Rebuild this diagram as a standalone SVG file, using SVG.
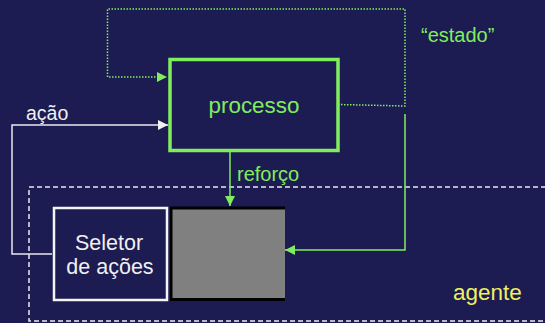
<svg xmlns="http://www.w3.org/2000/svg" width="545" height="323" viewBox="0 0 545 323">
  <style>
    text { font-family: "Liberation Sans", Arial, sans-serif; }
    .green { fill: #80ee5c; }
    .white { fill: #f0f0f0; }
    .yellow { fill: #f0f060; }
    .gline { stroke: #80ee5c; fill: none; }
    .wline { stroke: #e8e8f0; fill: none; stroke-width: 1.5; }
  </style>
  <defs>
    <marker id="ag" viewBox="0 0 10 10" refX="10" refY="5" markerWidth="10" markerHeight="10" markerUnits="userSpaceOnUse" orient="auto">
      <path d="M0,0 L10,5 L0,10 Z" fill="#80ee5c"/>
    </marker>
    <marker id="aw" viewBox="0 0 10 10" refX="10" refY="5" markerWidth="10" markerHeight="10" markerUnits="userSpaceOnUse" orient="auto">
      <path d="M0,0 L10,5 L0,10 Z" fill="#f0f0f0"/>
    </marker>
  </defs>

  <rect width="545" height="323" fill="#1c1b52"/>

  <!-- agent boundary -->
  <g id="agente">
    <rect x="29" y="187" width="530" height="134" fill="none" stroke="#e8e8f0" stroke-width="1.5" stroke-dasharray="5,3"/>
    <text x="453" y="300" font-size="22.5" class="yellow">agente</text>
  </g>

  <!-- connectors -->
  <g id="connectors">
    <!-- state feedback loop (dotted) -->
    <polyline class="gline" stroke-width="1.5" stroke-dasharray="1.5,1.5" points="338,104.5 405,106 405,9 107.5,9 107.5,77 158,77"/>
    <path d="M157,72 L167,77 L157,82 Z" fill="#80ee5c"/>
    <!-- action -->
    <polyline class="wline" points="52,254 12,254 12,125 168,125" marker-end="url(#aw)"/>
    <text x="26" y="119.5" font-size="19.5" class="white">ação</text>
    <!-- reinforcement -->
    <line class="gline" stroke-width="1.5" x1="230" y1="151" x2="230" y2="206" marker-end="url(#ag)"/>
    <text x="237" y="180.5" font-size="20" class="green">reforço</text>
    <!-- state into agent -->
    <polyline class="gline" stroke-width="1.5" points="405,114 405,250 285,250" marker-end="url(#ag)"/>
    <text x="421" y="41.5" font-size="20" class="green">“estado”</text>
  </g>

  <g id="processo">
    <rect x="170" y="59.5" width="168" height="91" fill="none" stroke="#80ee5c" stroke-width="3.5"/>
    <text x="254" y="112.5" font-size="22.4" text-anchor="middle" class="green">processo</text>
  </g>

  <g id="seletor">
    <rect x="54" y="208" width="113" height="92" fill="#1c1b52" stroke="#f4f4f4" stroke-width="2.5"/>
    <text x="109" y="250" font-size="21.5" text-anchor="middle" class="white">Seletor</text>
    <text x="110" y="274" font-size="21.5" text-anchor="middle" class="white">de ações</text>
  </g>

  <g id="bloco">
    <rect x="170" y="206.5" width="115" height="94.5" fill="#000000"/>
    <rect x="172.5" y="209.5" width="112.5" height="88.5" fill="#808080"/>
  </g>
</svg>
